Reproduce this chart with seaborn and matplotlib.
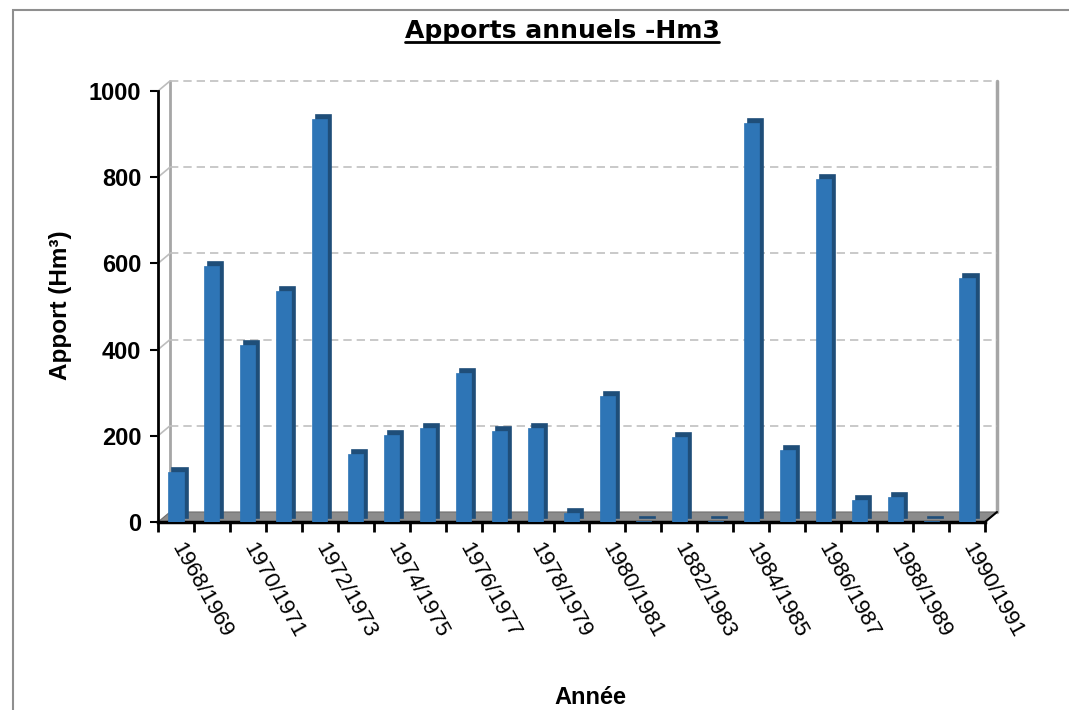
import matplotlib
matplotlib.use('Agg')
import matplotlib.pyplot as plt
import matplotlib.transforms as mtransforms
from matplotlib.patches import Rectangle, Polygon
from matplotlib.lines import Line2D
import numpy as np
import pandas as pd
import seaborn as sns

# Données : apports annuels (Hm3)
annees = ['1968/1969', '1969/1970', '1970/1971', '1971/1972', '1972/1973',
          '1973/1974', '1974/1975', '1975/1976', '1976/1977', '1977/1978',
          '1978/1979', '1979/1980', '1980/1981', '1981/1982', '1882/1983',
          '1983/1984', '1984/1985', '1985/1986', '1986/1987', '1987/1988',
          '1988/1989', '1989/1990', '1990/1991']
apports = [115, 595, 410, 535, 935, 158, 202, 217, 346, 211, 217, 22, 292,
           2, 197, 2, 926, 167, 796, 51, 57, 2, 566]
yticks = [0, 200, 400, 600, 800, 1000]

sns.set_theme(style='white')
plt.rcParams['font.family'] = ['Liberation Sans', 'DejaVu Sans']
plt.rcParams['text.color'] = 'black'
plt.rcParams['xtick.color'] = 'black'
plt.rcParams['ytick.color'] = 'black'
plt.rcParams['xtick.labelcolor'] = 'black'
plt.rcParams['ytick.labelcolor'] = 'black'

W, H = 1069, 710
fig = plt.figure(figsize=(W / 100, H / 100), dpi=100)
ax = fig.add_axes([158 / W, (H - 522) / H, 827 / W, 431 / H])
ax.set_facecolor('none')

df = pd.DataFrame({'Annee': annees, 'Apport': apports})
sns.barplot(data=df, x='Annee', y='Apport', color='#2E75B6', saturation=1,
            width=0.42, ax=ax, zorder=4, edgecolor='#2E75B6', linewidth=0.5)

# faces latérales (effet 3D)
off = mtransforms.offset_copy(ax.transData, fig=fig, x=4, y=4, units='dots')
for p in list(ax.patches):
    ax.add_patch(Rectangle(p.get_xy(), p.get_width(), p.get_height(),
                           transform=off, facecolor='#1F4E79',
                           edgecolor='#1F4E79', lw=1.2, zorder=3))

ax.set_xlim(-0.5, len(annees) - 0.5)
ax.set_ylim(0, 1000)

# mur du fond, sol, grille
dx, dy = 12 / 827, 10 / 431
ax.add_patch(Polygon([(0, 0), (1, 0), (1 + dx, dy), (dx, dy)], closed=True,
                     transform=ax.transAxes, facecolor='#8C8C8C',
                     edgecolor='#6E6E6E', lw=0.8, clip_on=False, zorder=1))
ax.plot([dx, dx], [dy, 1 + dy], transform=ax.transAxes, color='#A6A6A6',
        lw=2, clip_on=False, zorder=1)
ax.plot([1 + dx, 1 + dx], [dy, 1 + dy], transform=ax.transAxes,
        color='#A6A6A6', lw=2.5, clip_on=False, zorder=1)
ax.plot([1, 1 + dx], [0, dy], transform=ax.transAxes, color='black',
        lw=1.5, clip_on=False, zorder=2)
for t in yticks[1:]:
    ya = t / 1000
    ax.plot([dx, 1 + dx], [ya + dy, ya + dy], transform=ax.transAxes,
            color='#C0C0C0', lw=1.2, ls=(0, (5, 3)), clip_on=False, zorder=1)
    ax.plot([0, dx], [ya, ya + dy], transform=ax.transAxes,
            color='#BDBDBD', lw=1.2, clip_on=False, zorder=1)

for s in ['top', 'right']:
    ax.spines[s].set_visible(False)
ax.spines['left'].set_color('black')
ax.spines['left'].set_linewidth(2)
ax.spines['bottom'].set_color('black')
ax.spines['bottom'].set_linewidth(2.5)
ax.grid(False)

ax.set_yticks(yticks)
ax.set_yticklabels([str(v) for v in yticks], fontsize=17, fontweight='bold')
ax.tick_params(axis='y', direction='out', length=6, width=1.5, color='black',
               left=True, pad=6)

# graduations x entre catégories, étiquettes une année sur deux
ax.set_xticks(np.arange(-0.5, len(annees), 1))
ax.set_xticklabels([])
ax.tick_params(axis='x', which='major', direction='out', length=7, width=2,
               color='black', bottom=True)
pos = np.arange(0, len(annees), 2)
ax.set_xticks(pos, minor=True)
ax.set_xticklabels([annees[i] for i in pos], minor=True, fontsize=16,
                   rotation=-61, ha='left', va='center',
                   rotation_mode='anchor')
ax.tick_params(axis='x', which='minor', length=0, pad=16)
ax.set_xlabel('')
ax.set_ylabel('')

fig.text(590 / W, 1 - 697 / H, 'Année', ha='center', va='center',
         fontsize=17, fontweight='bold')
fig.text(60 / W, 1 - 305 / H, 'Apport (Hm³)', ha='center', va='center',
         rotation=90, fontsize=17.5, fontweight='bold')

titre = fig.text(562 / W, 1 - 31 / H, 'Apports annuels -Hm3', ha='center',
                 va='center', fontsize=18, fontweight='bold',
                 family=['DejaVu Sans'])
fig.canvas.draw()
bb = titre.get_window_extent()
fig.add_artist(Line2D([bb.x0, bb.x1], [bb.y0 + 1, bb.y0 + 1], color='black',
                      lw=2, transform=mtransforms.IdentityTransform()))

# cadre extérieur
fig.add_artist(Rectangle((13 / W, -0.1), 2, 1 - 10 / H + 0.1,
                         transform=fig.transFigure, fill=False,
                         edgecolor='#8F8F8F', lw=1.5))

fig.savefig('out.png', dpi=100)
